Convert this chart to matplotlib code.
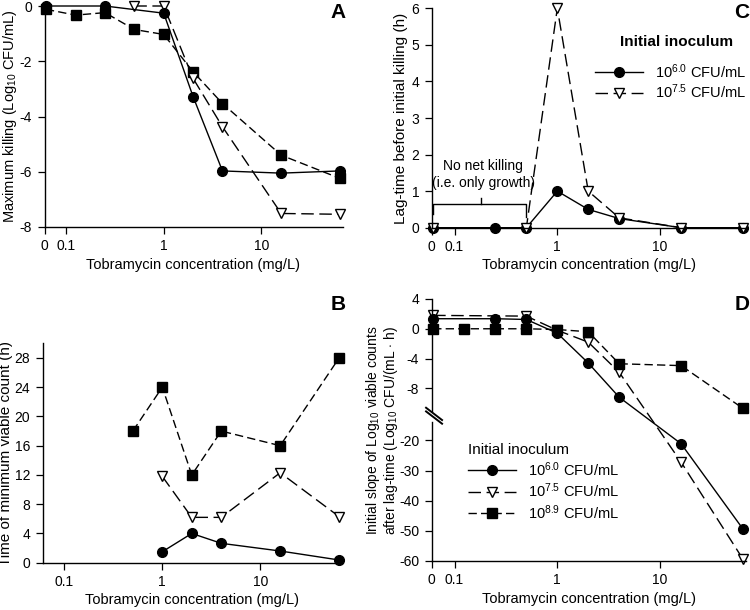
import numpy as np
import matplotlib
matplotlib.use('Agg')
import matplotlib.pyplot as plt
from matplotlib.ticker import FixedLocator, FixedFormatter, NullLocator

plt.rcParams['font.family'] = ['Liberation Sans', 'DejaVu Sans']
plt.rcParams['mathtext.fontset'] = 'custom'
plt.rcParams['mathtext.rm'] = 'Liberation Sans'
plt.rcParams['mathtext.it'] = 'Liberation Sans:italic'
plt.rcParams['axes.unicode_minus'] = False

# 0 mg/L is drawn at the left edge of the log axis
XMIN, XMAX = 0.06, 68
ZERO = 0.062

# panel A: maximum killing
conc_a_6 = [0, 0.25, 1, 2, 4, 16, 64]
kill_6 = [0, 0, -0.26, -3.28, -5.97, -6.05, -5.97]
conc_a_75 = [0.5, 1, 2, 4, 16, 64]
kill_75 = [0, 0, -2.62, -4.37, -7.51, -7.54]
conc_a_89 = [0, 0.125, 0.25, 0.5, 1, 2, 4, 16, 64]
kill_89 = [-0.12, -0.33, -0.24, -0.85, -1.03, -2.38, -3.53, -5.4, -6.24]

# panel B: time of minimum viable count
conc_b_6 = [1, 2, 4, 16, 64]
tmin_6 = [1.5, 4.0, 2.65, 1.6, 0.37]
conc_b_75 = [1, 2, 4, 16, 64]
tmin_75 = [11.8, 6.2, 6.2, 12.3, 6.3]
conc_b_89 = [0.5, 1, 2, 4, 16, 64]
tmin_89 = [18, 24, 12, 18, 16, 28]

# panel C: lag-time
conc_c_6 = [0, 0.25, 0.5, 1, 2, 4, 16, 64]
lag_6 = [0, 0, 0, 1.0, 0.5, 0.25, 0, 0]
conc_c_75 = [0, 0.5, 1, 2, 4, 16, 64]
lag_75 = [0, 0, 6.0, 1.0, 0.27, 0, 0]

# panel D: initial slope
conc_d_6 = [0, 0.25, 0.5, 1, 2, 4, 16, 64]
slope_6 = [1.35, 1.35, 1.25, -0.6, -4.6, -9.2, -21.1, -49.4]
conc_d_75 = [0, 0.5, 1, 2, 4, 16, 64]
slope_75 = [1.8, 1.7, -0.2, -1.8, -5.85, -27.2, -59.4]
conc_d_89 = [0, 0.125, 0.25, 0.5, 1, 2, 4, 16, 64]
slope_89 = [0, 0, 0, 0, -0.1, -0.4, -4.7, -4.95, -10.7]

lab_6 = r'10$^{6.0}$ CFU/mL'
lab_75 = r'10$^{7.5}$ CFU/mL'
lab_89 = r'10$^{8.9}$ CFU/mL'


def xp(c):
    return [ZERO if v == 0 else v for v in c]


st_6 = dict(color='black', lw=1.0, ls='-', marker='o', ms=7, mfc='black', mec='black', clip_on=False)
st_75 = dict(color='black', lw=1.0, ls=(0, (9, 4)), marker='v', ms=7.5, mfc='white', mec='black', mew=1.0, clip_on=False)
st_89 = dict(color='black', lw=1.0, ls=(0, (6, 3)), marker='s', ms=6.5, mfc='black', mec='black', clip_on=False)

W, H = 750, 610
fig = plt.figure(figsize=(7.5, 6.1), dpi=100)


def box(left, right, top, bottom):
    return [left / W, (H - bottom) / H, (right - left) / W, (bottom - top) / H]


axA = fig.add_axes(box(44.5, 342.5, 6, 227))
axB = fig.add_axes(box(42.7, 341.7, 343.3, 562.7))
axC = fig.add_axes(box(431.7, 745.7, 8.3, 227.7))
axD = fig.add_axes(box(431.7, 745.7, 299, 561))


def style(ax, zero_label=True):
    ax.set_xscale('log')
    ax.set_xlim(XMIN, XMAX)
    for s in ['top', 'right']:
        ax.spines[s].set_visible(False)
    for s in ['left', 'bottom']:
        ax.spines[s].set_linewidth(1.0)
    if zero_label:
        ax.xaxis.set_major_locator(FixedLocator([XMIN, 0.1, 1, 10]))
        ax.xaxis.set_major_formatter(FixedFormatter(['0', '0.1', '1', '10']))
    else:
        ax.xaxis.set_major_locator(FixedLocator([0.1, 1, 10]))
        ax.xaxis.set_major_formatter(FixedFormatter(['0.1', '1', '10']))
    ax.xaxis.set_minor_locator(NullLocator())
    ax.tick_params(direction='out', length=5, width=0.9, labelsize=10, pad=4)
    ax.set_xlabel('Tobramycin concentration (mg/L)', fontsize=10.5, labelpad=3)


# A
axA.plot(xp(conc_a_89), kill_89, **st_89)
axA.plot(xp(conc_a_75), kill_75, **st_75)
axA.plot(xp(conc_a_6), kill_6, **st_6)
style(axA)
axA.set_ylim(-8, 0)
axA.set_yticks([0, -2, -4, -6, -8])
axA.set_ylabel(r'Maximum killing (Log$_{10}$ CFU/mL)', fontsize=10.5)
axA.yaxis.set_label_coords(-0.086, 0.5)

# B
axB.plot(conc_b_89, tmin_89, **st_89)
axB.plot(conc_b_75, tmin_75, **st_75)
axB.plot(conc_b_6, tmin_6, **st_6)
style(axB, zero_label=False)
axB.set_ylim(0, 30)
axB.set_yticks([0, 4, 8, 12, 16, 20, 24, 28])
axB.set_ylabel('Time of minimum viable count (h)', fontsize=11)
axB.yaxis.set_label_coords(-0.1, 0.5)

# C
axC.plot(xp(conc_c_6), lag_6, label=lab_6, **st_6)
axC.plot(xp(conc_c_75), lag_75, label=lab_75, **st_75)
style(axC)
axC.set_ylim(0, 6)
axC.set_yticks([0, 1, 2, 3, 4, 5, 6])
axC.set_ylabel('Lag-time before initial killing (h)', fontsize=11)
axC.yaxis.set_label_coords(-0.075, 0.5)
axC.plot([ZERO, ZERO, 0.5, 0.5], [0.38, 0.65, 0.65, 0.3], color='black', lw=1.0, clip_on=False)
axC.plot([0.18, 0.18], [0.65, 0.8], color='black', lw=1.0)
axC.text(0.19, 1.46, 'No net killing\n(i.e. only growth)', ha='center', va='center',
         fontsize=10, linespacing=1.25)
fig.text(677 / W, 1 - 42 / H, 'Initial inoculum', fontsize=11, fontweight='bold',
         ha='center', va='center')
axC.legend(loc='upper right', frameon=False,
           bbox_to_anchor=(746 / W, 1 - 62 / H), bbox_transform=fig.transFigure,
           borderaxespad=0, borderpad=0, fontsize=10.5, handlelength=3.3,
           handletextpad=0.8, labelspacing=0.1)

# D: broken y-axis via piecewise linear scale
BRK, RATIO = -11.6, 0.405


def fwd(y):
    y = np.asarray(y, dtype=float)
    return np.where(y >= BRK, y, BRK + (y - BRK) * RATIO)


def inv(y):
    y = np.asarray(y, dtype=float)
    return np.where(y >= BRK, y, BRK + (y - BRK) / RATIO)


axD.set_yscale('function', functions=(fwd, inv))
axD.plot(xp(conc_d_75), slope_75, label=lab_75, **st_75)
axD.plot(xp(conc_d_89), slope_89, label=lab_89, **st_89)
axD.plot(xp(conc_d_6), slope_6, label=lab_6, **st_6)
style(axD)
axD.set_ylim(-60, 4)
axD.yaxis.set_major_locator(FixedLocator([4, 0, -4, -8, -20, -30, -40, -50, -60]))
axD.yaxis.set_major_formatter(FixedFormatter(['4', '0', '-4', '-8', '-20', '-30', '-40', '-50', '-60']))
axD.yaxis.set_minor_locator(NullLocator())
axD.set_ylabel('Initial slope of Log$_{10}$ viable counts\nafter lag-time (Log$_{10}$ CFU/(mL $\\cdot$ h)',
               fontsize=10, linespacing=1.0)
axD.yaxis.set_label_coords(-0.102, 0.5)
axD.spines['left'].set_visible(False)
axD.plot([0, 0], [1, 0.572], transform=axD.transAxes, color='black', lw=1.0, clip_on=False)
axD.plot([0, 0], [0.532, 0], transform=axD.transAxes, color='black', lw=1.0, clip_on=False)
for dy in [0.0, -0.014]:
    axD.plot([-0.018, 0.033], [0.585 + dy, 0.538 + dy], transform=axD.transAxes,
             color='black', lw=1.4, clip_on=False)
hD, lD = axD.get_legend_handles_labels()
order = [lD.index(lab_6), lD.index(lab_75), lD.index(lab_89)]
axD.legend([hD[i] for i in order], [lD[i] for i in order], title='Initial inoculum',
           loc='upper left', frameon=False, bbox_to_anchor=(468 / W, 1 - 443 / H),
           bbox_transform=fig.transFigure, borderaxespad=0, borderpad=0,
           fontsize=10.5, handlelength=3.3, handletextpad=0.8, labelspacing=0.2,
           alignment='left', title_fontproperties={'size': 11})

# panel letters
for letter, x, y in [('A', 338, 13), ('B', 338, 305), ('C', 742, 13), ('D', 742, 305)]:
    fig.text(x / W, 1 - y / H, letter, fontsize=15, fontweight='bold', ha='center', va='center')

fig.savefig('out.png', dpi=100)
